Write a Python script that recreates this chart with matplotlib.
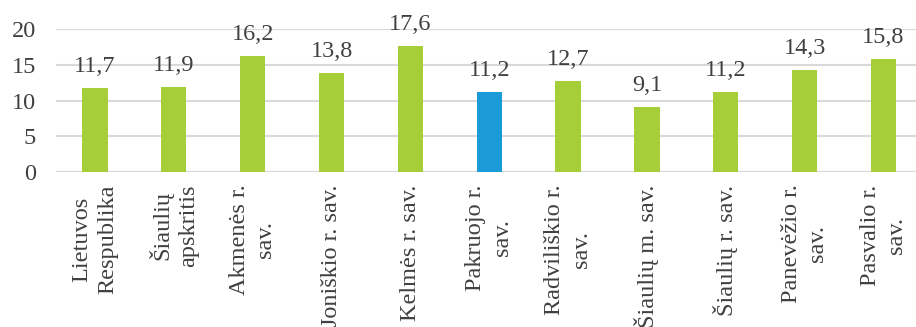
import numpy as np
from matplotlib import pyplot as plt

categories = ["Lietuvos\nRespublika", "Šiaulių\napskritis", "Akmenės r.\nsav.",
              "Joniškio r. sav.", "Kelmės r. sav.", "Pakruojo r.\nsav.",
              "Radviliškio r.\nsav.", "Šiaulių m. sav.", "Šiaulių r. sav.",
              "Panevėžio r.\nsav.", "Pasvalio r.\nsav."]
values = [11.7, 11.9, 16.2, 13.8, 17.6, 11.2, 12.7, 9.1, 11.2, 14.3, 15.8]
highlight = "Pakruojo r.\nsav."
y_ticks = [0, 5, 10, 15, 20]

green = "#a6ce39"
blue = "#1a9ad6"
text_color = "#404040"

plt.rcParams['font.family'] = ['Liberation Serif', 'DejaVu Serif']

fig = plt.figure(figsize=(9.16, 3.27), dpi=100)
ax = fig.add_axes([0.0606, 0.474, 0.947, 0.437])

x = np.arange(len(categories))
colors = [blue if c == highlight else green for c in categories]
bars = ax.bar(x, values, width=0.32, color=colors, zorder=3)

for xi, v in zip(x, values):
    ax.annotate(f"{v:.1f}".replace(".", ","), (xi, v), xytext=(0, 8),
                textcoords="offset points", ha="center", va="bottom",
                fontsize=17.5, color=text_color)

ax.set_xlim(-0.5, len(categories) - 0.5)
ax.set_ylim(0, 20)
ax.set_yticks(y_ticks)
ax.set_yticklabels([str(t) for t in y_ticks], fontsize=17.5, color=text_color)
ax.yaxis.grid(True, color="#d9d9d9", linewidth=1.5, zorder=0)
ax.set_axisbelow(True)
for s in ax.spines.values():
    s.set_visible(False)
ax.tick_params(axis="y", length=0, pad=14)
ax.tick_params(axis="x", length=0, pad=9)
ax.set_xticks(x)
ax.set_xticklabels(categories, rotation=90, fontsize=17.5, color=text_color,
                   ha="center", va="top", multialignment="center", linespacing=1.35)
ax.axhline(0, color="#d9d9d9", linewidth=1.5, zorder=2)

fig.savefig("out.png", dpi=100)
